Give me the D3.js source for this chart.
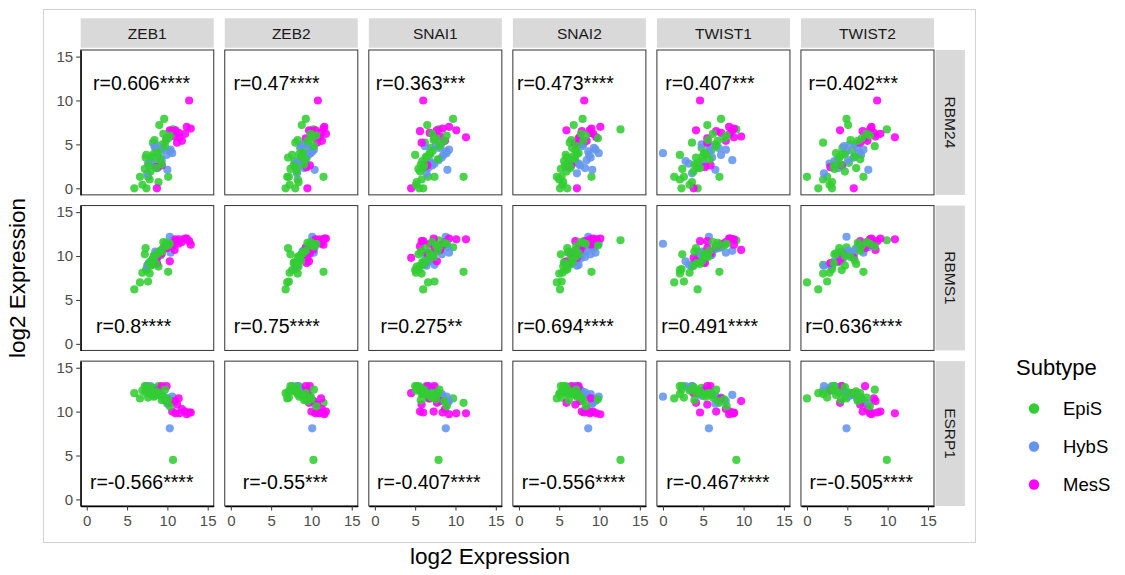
<!doctype html>
<html lang="en">
<head>
<meta charset="UTF-8">
<title>log2 Expression by subtype</title>
<script src="https://d3js.org/d3.v7.min.js"></script>
<style>
  body { margin: 0; background: #fff; }
  svg { display: block; font-family: Arial, "Liberation Sans", sans-serif; }
</style>
</head>
<body>
<svg width="1125" height="575"></svg>
<script>
// facet genes
const colGenes = ["ZEB1", "ZEB2", "SNAI1", "SNAI2", "TWIST1", "TWIST2"];
const rowGenes = ["RBM24", "RBMS1", "ESRP1"];
const subtypes = ["EpiS", "HybS", "MesS"];
const subtypeColors = ["#32CD32", "#6495ED", "#FF00FF"];
const tickValues = [0, 5, 10, 15];

// per-sample values (one position per sample, same sample in every panel)
const subtype = [
  "HybS","HybS","HybS","HybS","HybS","HybS","HybS","HybS","HybS","HybS","HybS","HybS","HybS","HybS","HybS",
  "MesS","MesS","MesS","MesS","MesS","MesS","MesS","MesS","MesS","MesS","MesS","MesS","MesS","MesS","MesS","MesS",
  "EpiS","EpiS","EpiS","EpiS","EpiS","EpiS","EpiS","EpiS","EpiS","EpiS","EpiS","EpiS","EpiS","EpiS","EpiS","EpiS","EpiS",
  "EpiS","EpiS","EpiS","EpiS","EpiS","EpiS","EpiS","EpiS","EpiS","EpiS","EpiS","EpiS","EpiS","EpiS","EpiS","EpiS","EpiS"
];
const ZEB1 = [
  10.3, 10.6, 7.5, 8.5, 9.0, 8.2, 9.5, 7.9, 10.4, 8.8, 9.9, 7.6, 9.3, 8.4, 10.0,
  12.7, 8.7, 8.7, 9.3, 11.0, 11.5, 10.9, 12.2, 11.8, 10.6, 12.4, 11.2, 9.9, 11.4, 12.9, 10.3,
  10.7, 5.9, 9.6, 10.1, 6.6, 7.6, 7.4, 9.0, 8.9, 7.8, 7.4, 8.2, 8.5, 8.0, 9.2, 8.7, 9.4,
  10.1, 7.2, 7.3, 8.3, 9.8, 8.6, 9.1, 7.9, 8.8, 6.9, 9.5, 8.1, 9.3, 10.3, 7.7, 8.4, 9.7
];
const ZEB2 = [
  10.1, 9.9, 8.2, 8.9, 9.4, 8.6, 9.8, 8.3, 10.3, 9.1, 9.6, 8.0, 9.0, 8.7, 10.4,
  10.8, 9.5, 9.4, 9.8, 10.5, 11.0, 10.2, 11.8, 11.3, 10.0, 11.6, 10.7, 9.3, 11.2, 11.5, 9.7,
  10.25, 6.8, 9.3, 11.5, 7.0, 7.2, 8.0, 8.8, 8.4, 8.3, 7.6, 8.0, 8.6, 7.9, 9.0, 9.2, 9.6,
  10.0, 7.4, 7.1, 8.5, 9.5, 8.1, 9.3, 8.2, 8.9, 7.3, 9.9, 8.7, 9.1, 10.6, 7.8, 8.3, 10.3
];
const SNAI1 = [
  8.8, 8.9, 6.4, 7.6, 8.3, 7.1, 8.0, 6.8, 9.2, 6.6, 8.5, 7.4, 7.9, 6.2, 9.0,
  6.0, 4.5, 6.1, 6.5, 10.1, 11.3, 8.1, 7.3, 8.7, 5.6, 9.2, 5.8, 7.4, 6.8, 8.4, 7.7,
  7.9, 6.0, 9.7, 11.0, 6.6, 7.4, 5.5, 6.5, 5.2, 5.8, 5.0, 6.2, 7.0, 5.9, 7.2, 6.7, 8.2,
  7.6, 5.4, 6.3, 6.9, 8.6, 6.0, 7.8, 5.6, 6.8, 5.1, 7.1, 6.4, 5.7, 8.9, 6.1, 7.3, 8.0
];
const SNAI2 = [
  8.6, 9.9, 7.2, 8.0, 8.9, 7.6, 9.3, 7.0, 9.5, 8.2, 8.7, 7.4, 8.4, 7.8, 9.1,
  8.1, 7.2, 6.1, 6.5, 8.8, 9.6, 7.6, 9.2, 8.4, 7.8, 10.1, 7.0, 7.4, 8.9, 9.0, 5.9,
  12.6, 5.1, 7.9, 9.0, 4.7, 5.3, 6.0, 6.8, 5.5, 5.0, 5.8, 6.3, 6.6, 5.6, 7.0, 6.1, 7.5,
  9.8, 5.2, 6.0, 7.2, 8.0, 6.4, 6.9, 5.9, 7.4, 5.4, 7.7, 6.7, 6.2, 8.3, 5.7, 6.5, 7.1
];
const TWIST1 = [
  5.7, 0.0, 3.6, 4.8, 6.1, 5.2, 6.9, 2.8, 7.8, 4.3, 7.2, 3.2, 8.6, 5.8, 6.5,
  4.6, 3.8, 5.2, 5.9, 8.6, 8.8, 9.7, 8.3, 7.8, 6.6, 8.2, 5.5, 5.5, 7.2, 8.8, 4.1,
  9.1, 4.3, 7.2, 7.0, 1.4, 2.6, 2.3, 5.5, 3.6, 2.1, 2.1, 3.6, 4.8, 5.0, 6.0, 4.4, 6.5,
  7.6, 2.4, 4.1, 5.3, 6.8, 4.6, 5.8, 3.8, 5.1, 3.3, 6.2, 4.9, 3.9, 7.9, 4.2, 5.6, 6.6
];
const TWIST2 = [
  4.9, 6.5, 2.1, 5.3, 5.8, 4.4, 6.2, 3.4, 7.0, 3.9, 6.7, 2.8, 5.1, 4.6, 7.6,
  8.7, 5.8, 2.9, 4.3, 7.8, 10.9, 8.5, 9.1, 7.5, 6.9, 8.0, 6.6, 7.2, 8.3, 7.9, 4.1,
  9.9, 1.4, 4.9, 7.0, 0.0, 2.5, 3.1, 5.1, 3.1, 2.0, 4.3, 2.0, 4.4, 3.8, 5.6, 5.2, 6.0,
  6.8, 3.4, 4.0, 4.7, 6.3, 6.1, 6.6, 4.7, 3.6, 2.8, 7.4, 5.9, 4.2, 7.8, 3.3, 5.4, 8.4
];
const RBM24 = [
  4.2, 4.0, 1.7, 5.0, 3.5, 2.6, 4.6, 3.1, 4.4, 2.3, 3.8, 2.8, 3.2, 4.8, 2.1,
  10.0, 0.0, 2.4, 2.6, 6.6, 5.8, 5.9, 6.2, 5.4, 6.5, 7.0, 5.2, 5.7, 6.3, 6.8, 6.6,
  6.7, 0.0, 7.9, 1.3, 1.3, 1.3, 0.0, 7.2, 0.7, 1.0, 3.8, 5.2, 4.6, 3.1, 4.3, 2.9, 5.0,
  5.7, 2.2, 3.5, 3.9, 5.4, 2.3, 3.3, 1.9, 4.0, 0.4, 6.2, 3.6, 2.7, 6.0, 2.6, 5.5, 4.8
];
const RBMS1 = [
  12.2, 11.4, 8.9, 10.5, 10.2, 9.7, 10.9, 9.4, 10.4, 9.9, 11.2, 9.0, 10.6, 10.1, 11.0,
  11.7, 9.8, 9.2, 10.3, 11.9, 11.9, 10.7, 12.0, 11.6, 11.1, 12.0, 11.7, 10.9, 11.4, 11.3, 9.4,
  11.8, 6.2, 11.0, 8.2, 7.0, 7.1, 8.5, 10.2, 8.8, 8.0, 8.4, 9.0, 9.6, 9.3, 10.1, 10.4, 10.8,
  11.2, 10.2, 10.9, 10.0, 11.5, 9.1, 10.6, 8.9, 10.3, 8.1, 11.6, 9.5, 10.5, 11.4, 9.2, 9.9, 11.1
];
const ESRP1 = [
  8.1, 11.7, 12.9, 11.8, 12.0, 12.5, 11.5, 12.9, 11.2, 12.2, 11.6, 12.7, 11.9, 12.3, 10.9,
  9.9, 12.1, 12.4, 12.9, 9.8, 9.8, 11.2, 10.0, 10.3, 10.0, 9.7, 10.8, 12.9, 11.5, 9.9, 11.0,
  4.5, 12.1, 11.5, 11.0, 11.5, 11.6, 12.5, 12.2, 12.9, 12.0, 12.9, 12.4, 12.7, 12.3, 11.9, 12.0, 11.8,
  11.4, 12.9, 12.2, 11.7, 11.2, 12.3, 12.1, 12.8, 11.9, 12.4, 11.6, 12.0, 11.3, 10.6, 12.5, 12.1, 12.5
];
const expr = { ZEB1, ZEB2, SNAI1, SNAI2, TWIST1, TWIST2, RBM24, RBMS1, ESRP1 };

// correlation labels per row (RBM24, RBMS1, ESRP1) and column
const corrLabels = [
  ["r=0.606****", "r=0.47****", "r=0.363***", "r=0.473****", "r=0.407***", "r=0.402***"],
  ["r=0.8****", "r=0.75****", "r=0.275**", "r=0.694****", "r=0.491****", "r=0.636****"],
  ["r=-0.566****", "r=-0.55***", "r=-0.407****", "r=-0.556****", "r=-0.467****", "r=-0.505****"]
];
// label anchor (left, baseline) in data units
const corrLabelX = [
  [0.78, 0.33, 0.12, -0.25, 0.28, 0.19],
  [1.15, 0.37, 0.70, -0.25, -0.22, -0.22],
  [0.40, 1.48, 0.28, 0.37, 0.40, 0.32]
];
const corrLabelY = [11.2, 1.23, 1.22];

const svg = d3.select("svg");

// outer frame
svg.append("rect")
  .attr("x", 43.5).attr("y", 9.5)
  .attr("width", 932).attr("height", 533)
  .attr("fill", "none").attr("stroke", "#d3d3d3");

const colBand = d3.scaleBand().domain(colGenes).range([80.7, 934]).paddingInner(0.0764);
const rowBand = d3.scaleBand().domain(rowGenes).range([50, 506]).paddingInner(0.0688);
const pw = colBand.bandwidth(), ph = rowBand.bandwidth();

const x = d3.scaleLinear().domain([-0.75, 15.75]).range([0, pw]);
const y = d3.scaleLinear().domain([-0.75, 15.75]).range([ph, 0]);
const color = d3.scaleOrdinal().domain(subtypes).range(subtypeColors);

// top strips
colGenes.forEach(g => {
  const sx = colBand(g);
  svg.append("rect").attr("x", sx).attr("y", 18.3).attr("width", pw).attr("height", 29.4)
    .attr("fill", "#d9d9d9");
  svg.append("text").attr("x", sx + pw / 2).attr("y", 33)
    .attr("text-anchor", "middle").attr("dominant-baseline", "central")
    .attr("font-size", 15.5).attr("fill", "#1a1a1a").text(g);
});

// right strips
rowGenes.forEach(g => {
  const sy = rowBand(g);
  svg.append("rect").attr("x", 935.5).attr("y", sy).attr("width", 29.4).attr("height", ph)
    .attr("fill", "#d9d9d9");
  svg.append("text")
    .attr("transform", `translate(950.2,${sy + ph / 2}) rotate(90)`)
    .attr("text-anchor", "middle").attr("dominant-baseline", "central")
    .attr("font-size", 15.5).attr("fill", "#1a1a1a").text(g);
});

// drawing order: part of EpiS below, the rest on top
const all = d3.range(subtype.length);
const epi = all.filter(i => subtype[i] === "EpiS");
const others = all.filter(i => subtype[i] !== "EpiS");
const order = [...epi.slice(0, 17), ...others, ...epi.slice(17)];

rowGenes.forEach((rg, ri) => {
  colGenes.forEach((cg, ci) => {
    const p = svg.append("g").attr("transform", `translate(${colBand(cg)},${rowBand(rg)})`);

    p.append("rect").attr("width", pw).attr("height", ph).attr("fill", "#fff");

    p.selectAll("circle").data(order).join("circle")
      .attr("cx", i => x(expr[cg][i]))
      .attr("cy", i => y(expr[rg][i]))
      .attr("r", 4.1)
      .attr("fill", i => color(subtype[i]))
      .attr("fill-opacity", 0.88);

    p.append("text")
      .attr("x", x(corrLabelX[ri][ci]))
      .attr("y", y(corrLabelY[ri]))
      .attr("font-size", 19.5).attr("fill", "#000")
      .text(corrLabels[ri][ci]);

    p.append("rect").attr("width", pw).attr("height", ph)
      .attr("fill", "none").attr("stroke", "#333").attr("stroke-width", 1);

    if (ci === 0) {
      const ax = p.append("g").call(d3.axisLeft(y).tickValues(tickValues).tickSize(4.5).tickSizeOuter(0).tickPadding(3));
      ax.select(".domain").attr("stroke", "#000").attr("stroke-width", 1.3);
      ax.selectAll(".tick line").attr("stroke", "#333");
      ax.selectAll(".tick text").attr("font-size", 15).attr("fill", "#4d4d4d")
        .attr("font-family", "Arial, 'Liberation Sans', sans-serif");
    }
    if (ri === rowGenes.length - 1) {
      const ax = p.append("g").attr("transform", `translate(0,${ph})`)
        .call(d3.axisBottom(x).tickValues(tickValues).tickSize(4.5).tickSizeOuter(0).tickPadding(5));
      ax.select(".domain").attr("stroke", "#000").attr("stroke-width", 1.3);
      ax.selectAll(".tick line").attr("stroke", "#333");
      ax.selectAll(".tick text").attr("font-size", 15).attr("fill", "#4d4d4d")
        .attr("font-family", "Arial, 'Liberation Sans', sans-serif");
    }
  });
});

// axis titles
svg.append("text").attr("x", 490).attr("y", 564)
  .attr("text-anchor", "middle").attr("font-size", 22.5).attr("fill", "#000")
  .text("log2 Expression");
svg.append("text").attr("transform", "translate(25,278) rotate(-90)")
  .attr("text-anchor", "middle").attr("font-size", 22.5).attr("fill", "#000")
  .text("log2 Expression");

// legend
const legend = svg.append("g");
legend.append("text").attr("x", 1016).attr("y", 375)
  .attr("font-size", 22).attr("fill", "#000").text("Subtype");
const keyY = d3.scalePoint().domain(subtypes).range([408.5, 484.5]);
subtypes.forEach(s => {
  legend.append("circle").attr("cx", 1034).attr("cy", keyY(s)).attr("r", 5.2)
    .attr("fill", color(s));
  legend.append("text").attr("x", 1063).attr("y", keyY(s))
    .attr("dominant-baseline", "central").attr("font-size", 18.5).attr("fill", "#000")
    .text(s);
});
</script>
</body>
</html>
